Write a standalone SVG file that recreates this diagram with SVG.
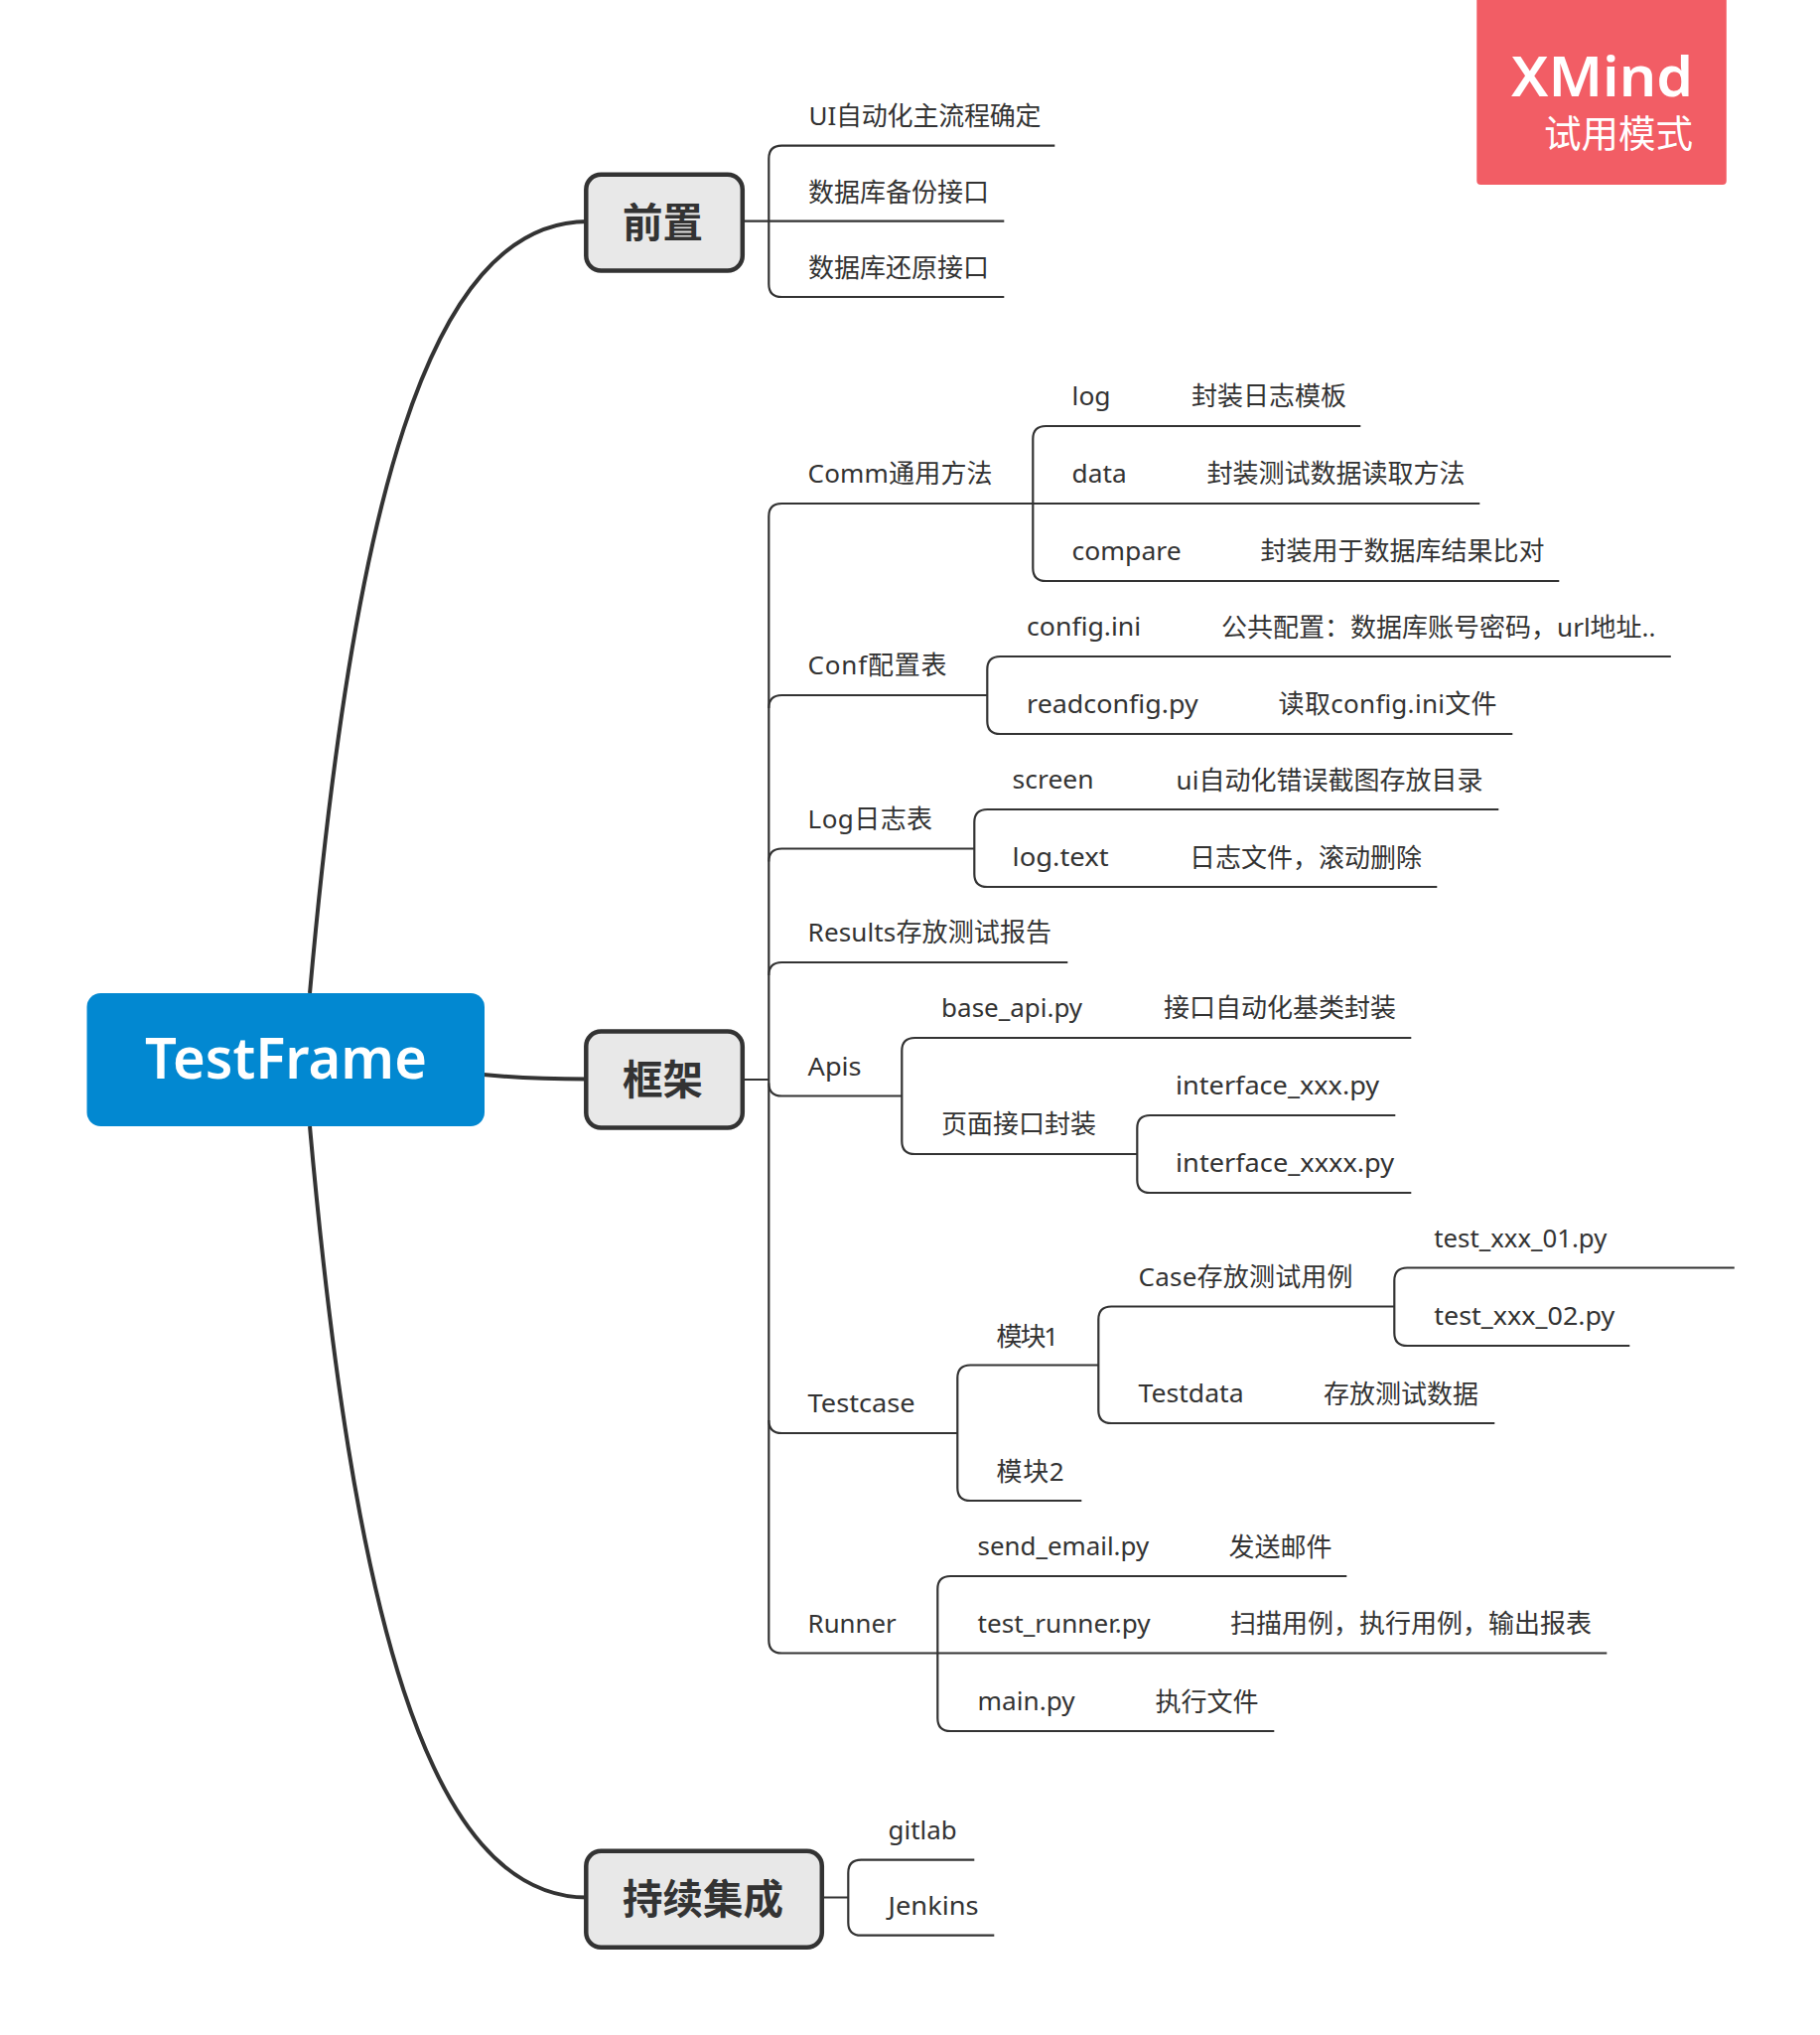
<svg xmlns="http://www.w3.org/2000/svg" width="1833" height="2049" viewBox="0 0 1833 2049">
<style>
text{font-family:"Noto Sans","Noto Sans CJK SC",sans-serif;fill:#333}
.t{font-size:26px}
.b{font-size:40.500px;font-weight:700;font-family:"Noto Sans CJK SC",sans-serif}
.box{fill:#e8e8e8;stroke:#333;stroke-width:4.5}
.c{fill:none;stroke:#333;stroke-width:2.2}
.m{fill:none;stroke:#333;stroke-width:4}
</style>
<rect width="1833" height="2049" fill="#fff"/>
<g id="connectors">
<path class="m" d="M312 1000C355 520 428 223 592 223"/>
<path class="m" d="M487 1082Q530 1086.500 592 1086.500"/>
<path class="m" d="M312 1134C355 1614 428 1910.600 592 1910.600"/>
<g transform="translate(1.300 0)">
<path class="c" d="M748 222.700H1010M1061 146.700H786Q773 146.700 773 159.700V286Q773 299 786 299H1010"/>
<path class="c" d="M747 1087H773M1489 507H786Q773 507 773 520V1651.500Q773 1664.500 786 1664.500H1617"/>
<path class="c" d="M773 713Q773 700 786 700H993M773 867.500Q773 854.500 786 854.500H980M773 982Q773 969 786 969H1074M773 1090.500Q773 1103.500 786 1103.500H907M773 1430Q773 1443 786 1443H963"/>
<path class="c" d="M1369 429H1052Q1039 429 1039 442V572Q1039 585 1052 585H1569"/>
<path class="c" d="M1681.500 661H1006Q993 661 993 674V726Q993 739 1006 739H1522"/>
<path class="c" d="M1508 815H993Q980 815 980 828V880Q980 893 993 893H1446"/>
<path class="c" d="M1420 1045H920Q907 1045 907 1058V1149Q907 1162 920 1162H1144"/>
<path class="c" d="M1404 1123H1157Q1144 1123 1144 1136V1188Q1144 1201 1157 1201H1420"/>
<path class="c" d="M1105 1374.500H976Q963 1374.500 963 1387.500V1498Q963 1511 976 1511H1088"/>
<path class="c" d="M1403 1315.500H1118Q1105 1315.500 1105 1328.500V1420Q1105 1433 1118 1433H1504"/>
<path class="c" d="M1745.500 1276.500H1416Q1403 1276.500 1403 1289.500V1342Q1403 1355 1416 1355H1640"/>
<path class="c" d="M1355 1587H956Q943 1587 943 1600V1730Q943 1743 956 1743H1282"/>
<path class="c" d="M828 1910.500H853M980 1872.700H866Q853 1872.700 853 1885.700V1935.700Q853 1948.700 866 1948.700H1000"/>
</g>
</g>
<g id="watermark"><rect x="1487.300" y="-6" width="251.500" height="192" rx="4" fill="#f25d65"/>
<text x="1522" y="97" font-size="56" font-weight="600" style="fill:#fff" textLength="183" lengthAdjust="spacingAndGlyphs">XMind</text>
<text x="1555" y="148" font-size="37.500" style="fill:#fff;font-family:'Noto Sans CJK SC',sans-serif">试用模式</text></g>
<g id="root"><rect x="87.500" y="1000" width="400.500" height="134" rx="14" fill="#0288d1"/>
<text x="146" y="1086" font-size="58" font-weight="600" style="fill:#fff" textLength="284" lengthAdjust="spacingAndGlyphs">TestFrame</text></g>
<g id="n-qianzhi"><rect class="box" x="590.300" y="175.800" width="157.500" height="96.700" rx="15"/><text class="b" x="627" y="239">前置</text></g>
<g id="n-kuangjia"><rect class="box" x="590.300" y="1038.500" width="157.500" height="97" rx="15"/><text class="b" x="627" y="1102">框架</text></g>
<g id="n-chixu"><rect class="box" x="590.300" y="1863.800" width="237.500" height="97" rx="15"/><text class="b" x="627" y="1927">持续集成</text></g>
<g id="topics" transform="translate(0.600 -0.700)">
<g id="n1"><text class="t" x="814" y="127" textLength="234">UI自动化主流程确定</text></g>
<g id="n2"><text class="t" x="813.500" y="203.800">数据库备份接口</text></g>
<g id="n3"><text class="t" x="813.500" y="279.800">数据库还原接口</text></g>
<g id="n4"><text class="t" x="813" y="487" textLength="186">Comm通用方法</text></g>
<g id="n5"><text class="t" x="1079" y="408.500" textLength="39" lengthAdjust="spacingAndGlyphs">log</text></g>
<g id="n6"><text class="t" x="1199.500" y="408.500">封装日志模板</text></g>
<g id="n7"><text class="t" x="1079" y="487" textLength="55" lengthAdjust="spacingAndGlyphs">data</text></g>
<g id="n8"><text class="t" x="1215" y="487">封装测试数据读取方法</text></g>
<g id="n9"><text class="t" x="1079" y="565" textLength="110" lengthAdjust="spacingAndGlyphs">compare</text></g>
<g id="n10"><text class="t" x="1269" y="565">封装用于数据库结果比对</text></g>
<g id="n11"><text class="t" x="813" y="680" textLength="140">Conf配置表</text></g>
<g id="n12"><text class="t" x="1033.500" y="641" textLength="115" lengthAdjust="spacingAndGlyphs">config.ini</text></g>
<g id="n13"><text class="t" x="1229.500" y="641.500">公共配置：数据库账号密码，url地址..</text></g>
<g id="n14"><text class="t" x="1033.500" y="719" textLength="172.500" lengthAdjust="spacingAndGlyphs">readconfig.py</text></g>
<g id="n15"><text class="t" x="1287" y="719" textLength="220">读取config.ini文件</text></g>
<g id="n16"><text class="t" x="813" y="834.500" textLength="125.500">Log日志表</text></g>
<g id="n17"><text class="t" x="1019" y="795" textLength="82" lengthAdjust="spacingAndGlyphs">screen</text></g>
<g id="n18"><text class="t" x="1184" y="795.500">ui自动化错误截图存放目录</text></g>
<g id="n19"><text class="t" x="1019" y="873" textLength="97" lengthAdjust="spacingAndGlyphs">log.text</text></g>
<g id="n20"><text class="t" x="1197.500" y="873.500">日志文件，滚动删除</text></g>
<g id="n21"><text class="t" x="813" y="949" textLength="245.500">Results存放测试报告</text></g>
<g id="n22"><text class="t" x="813" y="1083.500" textLength="54" lengthAdjust="spacingAndGlyphs">Apis</text></g>
<g id="n23"><text class="t" x="947.500" y="1025" textLength="142" lengthAdjust="spacingAndGlyphs">base_api.py</text></g>
<g id="n24"><text class="t" x="1171.500" y="1025">接口自动化基类封装</text></g>
<g id="n25"><text class="t" x="947.500" y="1142">页面接口封装</text></g>
<g id="n26"><text class="t" x="1183.500" y="1103" textLength="205" lengthAdjust="spacingAndGlyphs">interface_xxx.py</text></g>
<g id="n27"><text class="t" x="1183.500" y="1181" textLength="220" lengthAdjust="spacingAndGlyphs">interface_xxxx.py</text></g>
<g id="n28"><text class="t" x="813" y="1422.500" textLength="108" lengthAdjust="spacingAndGlyphs">Testcase</text></g>
<g id="n29"><text class="t" x="1003" y="1355.500" textLength="62.500">模块1</text></g>
<g id="n30"><text class="t" x="1146" y="1295.500" textLength="216">Case存放测试用例</text></g>
<g id="n31"><text class="t" x="1443.700" y="1256.500" textLength="174" lengthAdjust="spacingAndGlyphs">test_xxx_01.py</text></g>
<g id="n32"><text class="t" x="1443.700" y="1335" textLength="182" lengthAdjust="spacingAndGlyphs">test_xxx_02.py</text></g>
<g id="n33"><text class="t" x="1146" y="1413" textLength="106" lengthAdjust="spacingAndGlyphs">Testdata</text></g>
<g id="n34"><text class="t" x="1332.500" y="1413.500">存放测试数据</text></g>
<g id="n35"><text class="t" x="1003" y="1491.500" textLength="68">模块2</text></g>
<g id="n36"><text class="t" x="813" y="1644.500" textLength="89" lengthAdjust="spacingAndGlyphs">Runner</text></g>
<g id="n37"><text class="t" x="984" y="1567" textLength="172.500" lengthAdjust="spacingAndGlyphs">send_email.py</text></g>
<g id="n38"><text class="t" x="1237" y="1567.500">发送邮件</text></g>
<g id="n39"><text class="t" x="984" y="1644.500" textLength="174" lengthAdjust="spacingAndGlyphs">test_runner.py</text></g>
<g id="n40"><text class="t" x="1238.500" y="1645">扫描用例，执行用例，输出报表</text></g>
<g id="n41"><text class="t" x="984" y="1723" textLength="98" lengthAdjust="spacingAndGlyphs">main.py</text></g>
<g id="n42"><text class="t" x="1163" y="1723.500">执行文件</text></g>
<g id="n43"><text class="t" x="894" y="1852.700" textLength="69" lengthAdjust="spacingAndGlyphs">gitlab</text></g>
<g id="n44"><text class="t" x="894" y="1928.700" textLength="91" lengthAdjust="spacingAndGlyphs">Jenkins</text></g>
</g>
</svg>
